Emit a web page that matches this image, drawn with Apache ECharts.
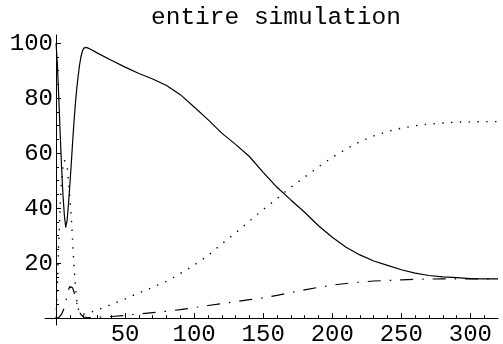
<!DOCTYPE html>
<html>
<head>
<meta charset="utf-8">
<script src="https://cdn.jsdelivr.net/npm/echarts@6/dist/echarts.min.js"></script>
<style>
  html, body { margin: 0; padding: 0; background: #fff; }
  #chart { width: 503px; height: 344px; }
</style>
</head>
<body>
<div id="chart"></div>
<script>
// time points (dense at the start where the curves swing fast)
const t = [0, 1, 2, 3, 4, 5, 6, 7, 8, 9, 10, 11, 12, 13, 14, 15, 16, 17, 18, 19, 20, 22, 25,
  30, 40, 50, 60, 70, 80, 90, 100, 110, 120, 130, 140, 150, 160, 170, 180, 190, 200,
  210, 220, 230, 240, 250, 260, 270, 280, 290, 300, 310, 320]

// solid curve
const solid = [100, 92, 80, 67, 55, 45, 37.5, 33, 35.5, 41.5, 48.5, 56, 64, 71.5, 78, 83.5, 88, 92, 95, 97, 98.2, 98.5, 97.8,
  96.4, 93.8, 91.3, 89, 87, 84.6, 81.3, 76.8, 72.2, 67.3, 63.2, 58.8, 53, 47.6, 43, 38.5, 33.6, 29.4,
  25.8, 23, 20.8, 19.2, 17.6, 16.4, 15.5, 15, 14.7, 14.4, 14.3, 14.3]

// dotted curve
const dotted = [0, 13, 28, 41, 50, 55, 57.5, 57.5, 55.5, 50, 44, 37, 28, 19, 11.5, 6.5, 3.5, 2, 1.4, 1.3, 1.4, 1.7, 2.1,
  3, 5, 7, 9.2, 11.2, 13.4, 16.2, 19.3, 22.8, 27, 31, 35.3, 39.5, 43.5, 47.6, 51.3, 55, 58.5,
  61.5, 64.2, 66.3, 67.9, 69.1, 70, 70.6, 71, 71.3, 71.4, 71.5, 71.5]

// dash-dot curve
const dashDot = [0, 0.1, 0.3, 0.8, 1.4, 2, 3.8, 6, 8.3, 10.3, 11.5, 11.8, 11, 9.5, 7.5, 5.5, 3.7, 2.3, 1.3, 0.7, 0.4, 0.25, 0.2,
  0.3, 0.6, 1, 1.5, 2, 2.5, 3.1, 3.8, 4.6, 5.3, 6, 6.7, 7.4, 8.3, 9.3, 10.3, 11.2, 12,
  12.6, 13.1, 13.5, 13.7, 13.9, 14.1, 14.2, 14.3, 14.3, 14.3, 14.3, 14.3]

// tick labels / tick positions
const xMajor = [50, 100, 150, 200, 250, 300]
const xMinor = [10, 20, 30, 40, 60, 70, 80, 90, 110, 120, 130, 140, 160, 170, 180, 190,
  210, 220, 230, 240, 260, 270, 280, 290, 310]
const yMajor = [20, 40, 60, 80, 100]
const yMinor = [5, 10, 15, 25, 30, 35, 45, 50, 55, 65, 70, 75, 85, 90, 95]

const font = 'Liberation Mono'

function pairs(ys) {
  return t.map((x, i) => [x, ys[i]])
}

const chart = echarts.init(document.getElementById('chart'))

chart.setOption({
  backgroundColor: '#ffffff',
  animation: false,
  title: {
    text: 'entire simulation',
    left: 146,
    top: 0,
    textStyle: {
      fontFamily: font,
      fontSize: 24.5,
      fontWeight: 'normal',
      color: '#000'
    }
  },
  grid: {
    left: 45,
    right: 5,
    top: 35,
    bottom: 19,
    outerBoundsMode: 'none'
  },
  xAxis: [
    {
      type: 'value',
      min: -8,
      max: 320,
      splitLine: { show: false },
      axisLine: { onZero: true, onZeroAxisIndex: 0, lineStyle: { color: '#000', width: 1 } },
      axisTick: { inside: true, length: 5, customValues: xMajor, lineStyle: { color: '#000' } },
      axisLabel: {
        customValues: xMajor,
        margin: -2,
        fontFamily: font,
        fontSize: 24,
        color: '#000'
      }
    },
    {
      type: 'value',
      min: -8,
      max: 320,
      position: 'bottom',
      splitLine: { show: false },
      axisLine: { show: false, onZero: true, onZeroAxisIndex: 0 },
      axisTick: { inside: true, length: 3, customValues: xMinor, lineStyle: { color: '#000' } },
      axisLabel: { show: false }
    }
  ],
  yAxis: [
    {
      type: 'value',
      min: -2.5,
      max: 103,
      splitLine: { show: false },
      axisLine: { show: true, onZero: true, onZeroAxisIndex: 0, lineStyle: { color: '#000', width: 1 } },
      axisTick: { show: true, inside: true, length: 5, customValues: yMajor, lineStyle: { color: '#000' } },
      axisLabel: {
        customValues: yMajor,
        margin: -8,
        fontFamily: font,
        fontSize: 24,
        color: '#000'
      }
    },
    {
      type: 'value',
      min: -2.5,
      max: 103,
      position: 'left',
      splitLine: { show: false },
      axisLine: { show: false, onZero: true, onZeroAxisIndex: 0 },
      axisTick: { show: true, inside: true, length: 3, customValues: yMinor, lineStyle: { color: '#000' } },
      axisLabel: { show: false }
    }
  ],
  series: [
    {
      type: 'line',
      data: pairs(solid),
      showSymbol: false,
      lineStyle: { color: '#000', width: 1.2 }
    },
    {
      type: 'line',
      data: pairs(dotted),
      showSymbol: false,
      lineStyle: { color: '#000', width: 1.4, type: [1.4, 7.4] }
    },
    {
      type: 'line',
      data: pairs(dashDot),
      showSymbol: false,
      lineStyle: { color: '#000', width: 1.2, type: [13, 9, 1.5, 9] }
    }
  ]
})
</script>
</body>
</html>
